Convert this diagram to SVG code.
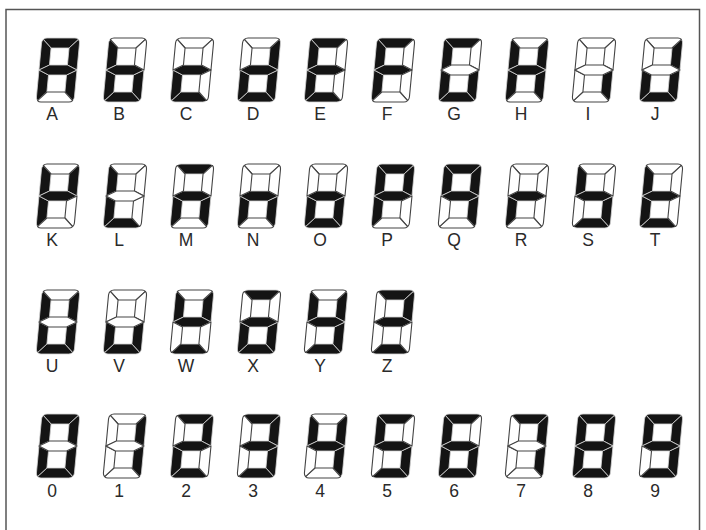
<svg xmlns="http://www.w3.org/2000/svg" xmlns:xlink="http://www.w3.org/1999/xlink" width="706" height="530" viewBox="0 0 706 530">
<style>
.on{fill:#141414;stroke:#d4d4d4;stroke-width:0.8;stroke-linejoin:round}
.off{fill:#fff;stroke:#444;stroke-width:1.1;stroke-linejoin:round}
.lbl{font-family:"Liberation Sans",Arial,sans-serif;font-size:17.5px;fill:#2a2a2a;text-anchor:middle}
</style>
<defs>
<path id="sa" d="M1.46,1.46 A5,5 0 0 1 5,0 L33,0 A5,5 0 0 1 36.54,1.46 L28,10 L10,10 Z"/>
<path id="sb" d="M36.54,1.46 A5,5 0 0 1 38,5 L38,32 L28,27 L28,10 Z"/>
<path id="sc" d="M38,32 L38,59 A5,5 0 0 1 36.54,62.54 L28,54 L28,37 Z"/>
<path id="sd" d="M1.46,62.54 L10,54 L28,54 L36.54,62.54 A5,5 0 0 1 33,64 L5,64 A5,5 0 0 1 1.46,62.54 Z"/>
<path id="se" d="M0,32 L10,37 L10,54 L1.46,62.54 A5,5 0 0 1 0,59 Z"/>
<path id="sf" d="M1.46,1.46 L10,10 L10,27 L0,32 L0,5 A5,5 0 0 1 1.46,1.46 Z"/>
<path id="sg" d="M0,32 L10,27 L28,27 L38,32 L28,37 L10,37 Z"/>
</defs>
<rect x="6" y="9.5" width="693.5" height="540" fill="#fff" stroke="#555" stroke-width="1.5"/>
<g id="connectors"></g>

<!-- Row 1 -->
<g id="node-A"><g transform="translate(42,38) skewX(-5.4)"><use href="#sa" class="on"/><use href="#sb" class="on"/><use href="#sc" class="on"/><use href="#se" class="on"/><use href="#sf" class="on"/><use href="#sg" class="on"/><use href="#sd" class="off"/></g><text class="lbl" x="52" y="120">A</text></g>
<g id="node-B"><g transform="translate(109,38) skewX(-5.4)"><use href="#sc" class="on"/><use href="#sd" class="on"/><use href="#se" class="on"/><use href="#sf" class="on"/><use href="#sg" class="on"/><use href="#sa" class="off"/><use href="#sb" class="off"/></g><text class="lbl" x="119" y="120">B</text></g>
<g id="node-C"><g transform="translate(176,38) skewX(-5.4)"><use href="#sd" class="on"/><use href="#se" class="on"/><use href="#sg" class="on"/><use href="#sa" class="off"/><use href="#sb" class="off"/><use href="#sc" class="off"/><use href="#sf" class="off"/></g><text class="lbl" x="186" y="120">C</text></g>
<g id="node-D"><g transform="translate(243,38) skewX(-5.4)"><use href="#sb" class="on"/><use href="#sc" class="on"/><use href="#sd" class="on"/><use href="#se" class="on"/><use href="#sg" class="on"/><use href="#sa" class="off"/><use href="#sf" class="off"/></g><text class="lbl" x="253" y="120">D</text></g>
<g id="node-E"><g transform="translate(310,38) skewX(-5.4)"><use href="#sa" class="on"/><use href="#sd" class="on"/><use href="#se" class="on"/><use href="#sf" class="on"/><use href="#sg" class="on"/><use href="#sb" class="off"/><use href="#sc" class="off"/></g><text class="lbl" x="320" y="120">E</text></g>
<g id="node-F"><g transform="translate(377,38) skewX(-5.4)"><use href="#sa" class="on"/><use href="#se" class="on"/><use href="#sf" class="on"/><use href="#sg" class="on"/><use href="#sb" class="off"/><use href="#sc" class="off"/><use href="#sd" class="off"/></g><text class="lbl" x="387" y="120">F</text></g>
<g id="node-G"><g transform="translate(444,38) skewX(-5.4)"><use href="#sa" class="on"/><use href="#sc" class="on"/><use href="#sd" class="on"/><use href="#se" class="on"/><use href="#sf" class="on"/><use href="#sb" class="off"/><use href="#sg" class="off"/></g><text class="lbl" x="454" y="120">G</text></g>
<g id="node-H"><g transform="translate(511,38) skewX(-5.4)"><use href="#sb" class="on"/><use href="#sc" class="on"/><use href="#se" class="on"/><use href="#sf" class="on"/><use href="#sg" class="on"/><use href="#sa" class="off"/><use href="#sd" class="off"/></g><text class="lbl" x="521" y="120">H</text></g>
<g id="node-I"><g transform="translate(578,38) skewX(-5.4)"><use href="#sc" class="on"/><use href="#sa" class="off"/><use href="#sb" class="off"/><use href="#sd" class="off"/><use href="#se" class="off"/><use href="#sf" class="off"/><use href="#sg" class="off"/></g><text class="lbl" x="588" y="120">I</text></g>
<g id="node-J"><g transform="translate(645,38) skewX(-5.4)"><use href="#sb" class="on"/><use href="#sc" class="on"/><use href="#sd" class="on"/><use href="#se" class="on"/><use href="#sa" class="off"/><use href="#sf" class="off"/><use href="#sg" class="off"/></g><text class="lbl" x="655" y="120">J</text></g>

<!-- Row 2 -->
<g id="node-K"><g transform="translate(42,164) skewX(-5.4)"><use href="#sb" class="on"/><use href="#se" class="on"/><use href="#sf" class="on"/><use href="#sg" class="on"/><use href="#sa" class="off"/><use href="#sc" class="off"/><use href="#sd" class="off"/></g><text class="lbl" x="52" y="246">K</text></g>
<g id="node-L"><g transform="translate(109,164) skewX(-5.4)"><use href="#sd" class="on"/><use href="#se" class="on"/><use href="#sf" class="on"/><use href="#sa" class="off"/><use href="#sb" class="off"/><use href="#sc" class="off"/><use href="#sg" class="off"/></g><text class="lbl" x="119" y="246">L</text></g>
<g id="node-M"><g transform="translate(176,164) skewX(-5.4)"><use href="#sa" class="on"/><use href="#sc" class="on"/><use href="#se" class="on"/><use href="#sg" class="on"/><use href="#sb" class="off"/><use href="#sd" class="off"/><use href="#sf" class="off"/></g><text class="lbl" x="186" y="246">M</text></g>
<g id="node-N"><g transform="translate(243,164) skewX(-5.4)"><use href="#sc" class="on"/><use href="#se" class="on"/><use href="#sg" class="on"/><use href="#sa" class="off"/><use href="#sb" class="off"/><use href="#sd" class="off"/><use href="#sf" class="off"/></g><text class="lbl" x="253" y="246">N</text></g>
<g id="node-O"><g transform="translate(310,164) skewX(-5.4)"><use href="#sc" class="on"/><use href="#sd" class="on"/><use href="#se" class="on"/><use href="#sg" class="on"/><use href="#sa" class="off"/><use href="#sb" class="off"/><use href="#sf" class="off"/></g><text class="lbl" x="320" y="246">O</text></g>
<g id="node-P"><g transform="translate(377,164) skewX(-5.4)"><use href="#sa" class="on"/><use href="#sb" class="on"/><use href="#se" class="on"/><use href="#sf" class="on"/><use href="#sg" class="on"/><use href="#sc" class="off"/><use href="#sd" class="off"/></g><text class="lbl" x="387" y="246">P</text></g>
<g id="node-Q"><g transform="translate(444,164) skewX(-5.4)"><use href="#sa" class="on"/><use href="#sb" class="on"/><use href="#sc" class="on"/><use href="#sf" class="on"/><use href="#sg" class="on"/><use href="#sd" class="off"/><use href="#se" class="off"/></g><text class="lbl" x="454" y="246">Q</text></g>
<g id="node-R"><g transform="translate(511,164) skewX(-5.4)"><use href="#se" class="on"/><use href="#sg" class="on"/><use href="#sa" class="off"/><use href="#sb" class="off"/><use href="#sc" class="off"/><use href="#sd" class="off"/><use href="#sf" class="off"/></g><text class="lbl" x="521" y="246">R</text></g>
<g id="node-S"><g transform="translate(578,164) skewX(-5.4)"><use href="#sc" class="on"/><use href="#sd" class="on"/><use href="#sf" class="on"/><use href="#sg" class="on"/><use href="#sa" class="off"/><use href="#sb" class="off"/><use href="#se" class="off"/></g><text class="lbl" x="588" y="246">S</text></g>
<g id="node-T"><g transform="translate(645,164) skewX(-5.4)"><use href="#sd" class="on"/><use href="#se" class="on"/><use href="#sf" class="on"/><use href="#sg" class="on"/><use href="#sa" class="off"/><use href="#sb" class="off"/><use href="#sc" class="off"/></g><text class="lbl" x="655" y="246">T</text></g>

<!-- Row 3 -->
<g id="node-U"><g transform="translate(42,290) skewX(-5.4)"><use href="#sb" class="on"/><use href="#sc" class="on"/><use href="#sd" class="on"/><use href="#se" class="on"/><use href="#sf" class="on"/><use href="#sa" class="off"/><use href="#sg" class="off"/></g><text class="lbl" x="52" y="372">U</text></g>
<g id="node-V"><g transform="translate(109,290) skewX(-5.4)"><use href="#sc" class="on"/><use href="#sd" class="on"/><use href="#se" class="on"/><use href="#sa" class="off"/><use href="#sb" class="off"/><use href="#sf" class="off"/><use href="#sg" class="off"/></g><text class="lbl" x="119" y="372">V</text></g>
<g id="node-W"><g transform="translate(176,290) skewX(-5.4)"><use href="#sb" class="on"/><use href="#sd" class="on"/><use href="#sf" class="on"/><use href="#sg" class="on"/><use href="#sa" class="off"/><use href="#sc" class="off"/><use href="#se" class="off"/></g><text class="lbl" x="186" y="372">W</text></g>
<g id="node-X"><g transform="translate(243,290) skewX(-5.4)"><use href="#sa" class="on"/><use href="#sc" class="on"/><use href="#sd" class="on"/><use href="#se" class="on"/><use href="#sg" class="on"/><use href="#sb" class="off"/><use href="#sf" class="off"/></g><text class="lbl" x="253" y="372">X</text></g>
<g id="node-Y"><g transform="translate(310,290) skewX(-5.4)"><use href="#sb" class="on"/><use href="#sc" class="on"/><use href="#sd" class="on"/><use href="#sf" class="on"/><use href="#sg" class="on"/><use href="#sa" class="off"/><use href="#se" class="off"/></g><text class="lbl" x="320" y="372">Y</text></g>
<g id="node-Z"><g transform="translate(377,290) skewX(-5.4)"><use href="#sa" class="on"/><use href="#sb" class="on"/><use href="#sd" class="on"/><use href="#sg" class="on"/><use href="#sc" class="off"/><use href="#se" class="off"/><use href="#sf" class="off"/></g><text class="lbl" x="387" y="372">Z</text></g>

<!-- Row 4 -->
<g id="node-0"><g transform="translate(42,414) skewX(-5.4)"><use href="#sa" class="on"/><use href="#sb" class="on"/><use href="#sc" class="on"/><use href="#sd" class="on"/><use href="#se" class="on"/><use href="#sf" class="on"/><use href="#sg" class="off"/></g><text class="lbl" x="52" y="497">0</text></g>
<g id="node-1"><g transform="translate(109,414) skewX(-5.4)"><use href="#sb" class="on"/><use href="#sc" class="on"/><use href="#sa" class="off"/><use href="#sd" class="off"/><use href="#se" class="off"/><use href="#sf" class="off"/><use href="#sg" class="off"/></g><text class="lbl" x="119" y="497">1</text></g>
<g id="node-2"><g transform="translate(176,414) skewX(-5.4)"><use href="#sa" class="on"/><use href="#sb" class="on"/><use href="#sd" class="on"/><use href="#se" class="on"/><use href="#sg" class="on"/><use href="#sc" class="off"/><use href="#sf" class="off"/></g><text class="lbl" x="186" y="497">2</text></g>
<g id="node-3"><g transform="translate(243,414) skewX(-5.4)"><use href="#sa" class="on"/><use href="#sb" class="on"/><use href="#sc" class="on"/><use href="#sd" class="on"/><use href="#sg" class="on"/><use href="#se" class="off"/><use href="#sf" class="off"/></g><text class="lbl" x="253" y="497">3</text></g>
<g id="node-4"><g transform="translate(310,414) skewX(-5.4)"><use href="#sb" class="on"/><use href="#sc" class="on"/><use href="#sf" class="on"/><use href="#sg" class="on"/><use href="#sa" class="off"/><use href="#sd" class="off"/><use href="#se" class="off"/></g><text class="lbl" x="320" y="497">4</text></g>
<g id="node-5"><g transform="translate(377,414) skewX(-5.4)"><use href="#sa" class="on"/><use href="#sc" class="on"/><use href="#sd" class="on"/><use href="#sf" class="on"/><use href="#sg" class="on"/><use href="#sb" class="off"/><use href="#se" class="off"/></g><text class="lbl" x="387" y="497">5</text></g>
<g id="node-6"><g transform="translate(444,414) skewX(-5.4)"><use href="#sa" class="on"/><use href="#sc" class="on"/><use href="#sd" class="on"/><use href="#se" class="on"/><use href="#sf" class="on"/><use href="#sg" class="on"/><use href="#sb" class="off"/></g><text class="lbl" x="454" y="497">6</text></g>
<g id="node-7"><g transform="translate(511,414) skewX(-5.4)"><use href="#sa" class="on"/><use href="#sb" class="on"/><use href="#sc" class="on"/><use href="#sd" class="off"/><use href="#se" class="off"/><use href="#sf" class="off"/><use href="#sg" class="off"/></g><text class="lbl" x="521" y="497">7</text></g>
<g id="node-8"><g transform="translate(578,414) skewX(-5.4)"><use href="#sa" class="on"/><use href="#sb" class="on"/><use href="#sc" class="on"/><use href="#sd" class="on"/><use href="#se" class="on"/><use href="#sf" class="on"/><use href="#sg" class="on"/></g><text class="lbl" x="588" y="497">8</text></g>
<g id="node-9"><g transform="translate(645,414) skewX(-5.4)"><use href="#sa" class="on"/><use href="#sb" class="on"/><use href="#sc" class="on"/><use href="#sd" class="on"/><use href="#sf" class="on"/><use href="#sg" class="on"/><use href="#se" class="off"/></g><text class="lbl" x="655" y="497">9</text></g>
</svg>
